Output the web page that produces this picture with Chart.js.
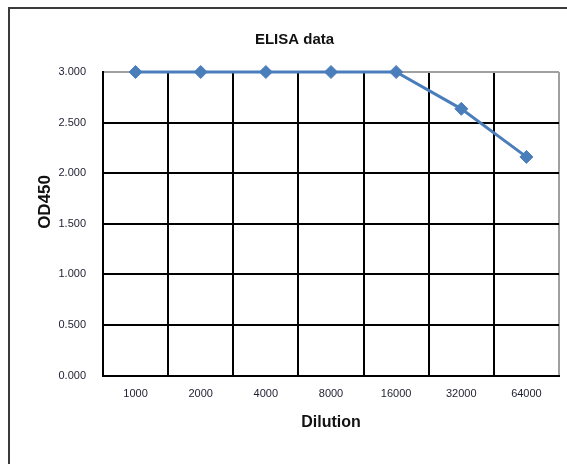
<!DOCTYPE html>
<html>
<head>
<meta charset="utf-8">
<script src="https://cdn.jsdelivr.net/npm/chart.js@4.4.1/dist/chart.umd.min.js"></script>
<style>
  html, body { margin: 0; padding: 0; background: #fff; }
  #wrap { width: 567px; height: 464px; position: relative; }
</style>
</head>
<body>
<div id="wrap"><canvas id="c"></canvas></div>
<script>
const categories = ['1000', '2000', '4000', '8000', '16000', '32000', '64000'];
const odValues = [3.000, 3.000, 3.000, 3.000, 3.000, 2.636, 2.161];
const yTicks = [0, 0.5, 1.0, 1.5, 2.0, 2.5, 3.0];
const chartTitle = 'ELISA data';
const xTitle = 'Dilution';
const yTitle = 'OD450';

const FONT = 'Arial, "Liberation Sans", sans-serif';

const framePlugin = {
  id: 'frame',
  beforeDraw(chart) {
    const ctx = chart.ctx;
    ctx.save();
    ctx.strokeStyle = '#3a3a3a';
    ctx.lineWidth = 2;
    ctx.beginPath();
    ctx.moveTo(9, chart.height + 2);
    ctx.lineTo(9, 8);
    ctx.lineTo(chart.width + 2, 8);
    ctx.stroke();
    ctx.restore();
  }
};

const yTitlePlugin = {
  id: 'yTitleDraw',
  afterDraw(chart) {
    const ctx = chart.ctx;
    const area = chart.chartArea;
    ctx.save();
    ctx.translate(45, area.top + (area.bottom - area.top) * 0.428);
    ctx.rotate(-Math.PI / 2);
    ctx.font = 'bold 17px ' + FONT;
    ctx.fillStyle = '#111';
    ctx.textAlign = 'center';
    ctx.textBaseline = 'middle';
    ctx.fillText(yTitle, 0, 0);
    ctx.restore();
  }
};

new Chart(document.getElementById('c'), {
  type: 'line',
  data: {
    labels: categories,
    datasets: [{
      label: yTitle,
      data: odValues,
      borderColor: '#4a7ebb',
      backgroundColor: '#4a7ebb',
      borderWidth: 3,
      pointStyle: 'rectRot',
      pointRadius: 6.5,
      pointHoverRadius: 6.5,
      pointBackgroundColor: '#4a7ebb',
      pointBorderColor: '#4a7ebb',
      pointBorderWidth: 1,
      tension: 0,
      clip: false
    }]
  },
  options: {
    responsive: true,
    maintainAspectRatio: false,
    animation: false,
    layout: { padding: { left: 30, right: 8, top: 31, bottom: 28 } },
    plugins: {
      legend: { display: false },
      tooltip: { enabled: false },
      title: {
        display: true,
        text: chartTitle,
        color: '#111',
        font: { family: FONT, size: 15, weight: 'bold', lineHeight: 1.2 },
        padding: { top: 0, bottom: 23 }
      }
    },
    scales: {
      x: {
        offset: true,
        grid: {
          offset: true,
          drawTicks: false,
          lineWidth: 2,
          color: (c) => (c.type === 'tick' ? '#000' : '#a0a0a0')
        },
        border: { display: true, color: '#000', width: 2 },
        ticks: {
          color: '#1e1e30',
          font: { family: FONT, size: 11 },
          padding: 12,
          maxRotation: 0,
          autoSkip: false
        },
        title: {
          display: true,
          text: xTitle,
          color: '#111',
          font: { family: FONT, size: 16, weight: 'bold', lineHeight: 1.2 },
          padding: { top: 0, bottom: 4 }
        }
      },
      y: {
        min: 0,
        max: 3,
        afterFit(scale) { scale.width = 73; },
        afterBuildTicks(scale) { scale.ticks = yTicks.map(v => ({ value: v })); },
        grid: {
          drawTicks: false,
          lineWidth: 2,
          color: (c) => (c.tick && c.tick.value === 3 ? '#a0a0a0' : '#000')
        },
        border: { display: true, color: '#000', width: 2 },
        ticks: {
          color: '#1e1e30',
          font: { family: FONT, size: 11 },
          padding: 17,
          callback: (v) => Number(v).toFixed(3)
        }
      }
    }
  },
  plugins: [framePlugin, yTitlePlugin]
});
</script>
</body>
</html>
